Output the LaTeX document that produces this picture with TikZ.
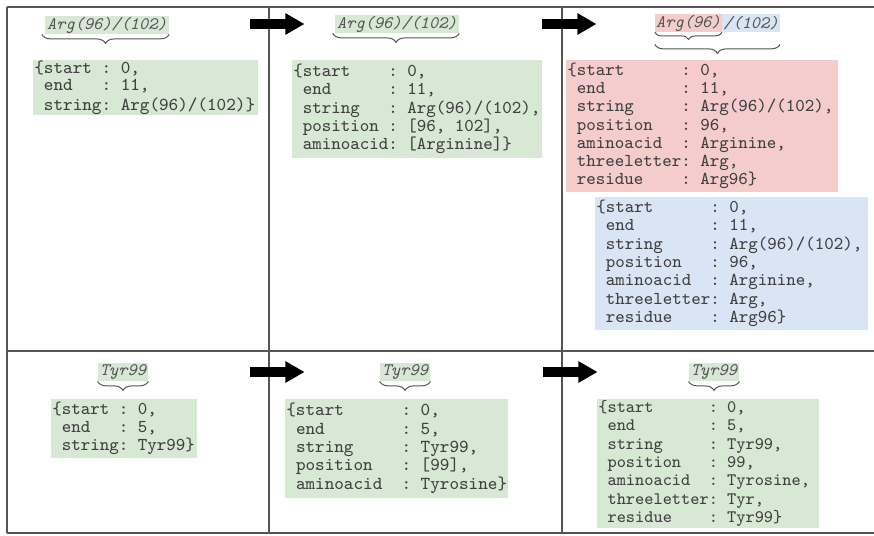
\documentclass[tikz,border=0pt]{standalone}
\usepackage{fontspec}
\usetikzlibrary{shapes.arrows,decorations.pathreplacing}
\definecolor{cgreen}{HTML}{D7E8D4}
\definecolor{cred}{HTML}{F4CCCC}
\definecolor{cblue}{HTML}{D9E5F5}
\definecolor{ctext}{HTML}{404040}
\definecolor{clabel}{HTML}{555555}
\definecolor{cframe}{HTML}{555555}
\newcommand\bl[1]{\hspace*{\dimexpr#1\fontcharwd\font`x\relax}}
\begin{document}
\begin{tikzpicture}[x=0.5pt,y=-0.5pt,
  codebox/.style={anchor=north west, inner xsep=0.5pt, inner ysep=0pt, align=left, text=ctext},
  fa/.style={font=\ttfamily\fontsize{9.05}{9.15}\selectfont},
  lbl/.style={inner xsep=1pt, inner ysep=0pt, minimum height=9pt, text=clabel, font=\ttfamily\itshape\fontsize{8.76}{9}\selectfont},
  blockarrow/.style={single arrow, fill=black, draw=none, inner sep=2.25pt, single arrow head extend=3pt, single arrow tip angle=60, minimum height=27pt},
  brc/.style={decorate, decoration={brace, mirror, amplitude=4.5pt}, draw=clabel, line width=0.5pt},
  frame/.style={draw=cframe, line width=0.8pt}]
\useasboundingbox (0,0) rectangle (874,536);

% frame
\draw[frame] (7,7) -- (874,7);
\draw[frame] (7,351) -- (874,351);
\draw[frame] (7,533) -- (874,533);
\draw[frame] (7,7) -- (7,533);
\draw[frame] (269,7) -- (269,533);
\draw[frame] (562,7) -- (562,533);

% arrows
\node[blockarrow] (a1) at (273,24) {};
\node[blockarrow] (a2) at (565,24) {};
\node[blockarrow] (a3) at (273,372) {};
\node[blockarrow] (a4) at (566,372) {};

% labels top
\node[lbl, fill=cgreen] (l1) at (107,25) {Arg(96)/(102)};
\node[lbl, fill=cgreen] (l2) at (397,24) {Arg(96)/(102)};
\node[lbl, fill=cred, anchor=east, inner xsep=0.5pt] (l3a) at (722,23) {Arg(96)};
\node[lbl, fill=cblue, anchor=west, inner xsep=0.5pt] (l3b) at (722,23) {/(102)};

\draw[brc] ([xshift=-1.5pt]l1.south west) -- (l1.south east);
\draw[brc] ([xshift=-1pt]l2.south west) -- (l2.south east);
\draw[brc, decoration={amplitude=3.5pt}] (l3a.south west) -- (l3a.south east);
\draw[brc] ([yshift=-6pt]l3a.south west) -- ([yshift=-6pt]l3b.south east);

% labels bottom
\node[lbl, fill=cgreen] (m1) at (123,372) {Tyr99};
\node[lbl, fill=cgreen] (m2) at (405,372) {Tyr99};
\node[lbl, fill=cgreen] (m3) at (714,372) {Tyr99};
\draw[brc] (m1.south west) -- (m1.south east);
\draw[brc] (m2.south west) -- (m2.south east);
\draw[brc] (m3.south west) -- (m3.south east);

% top boxes
\node[codebox, fill=cgreen, text width=111.5pt, minimum height=27.5pt,
      font=\ttfamily\fontsize{9.14}{8.5}\selectfont] (b1) at (33,60)
 {\strut\{start\bl{1}:\bl{1}0,\\
  \strut\bl{1}end\bl{3}:\bl{1}11,\\
  \strut\bl{1}string:\bl{1}Arg(96)/(102)\}};

\node[codebox, fill=cgreen, text width=124pt, minimum height=49pt, fa] (b2) at (292,60)
 {\strut\{start\bl{4}:\bl{1}0,\\
  \strut\bl{1}end\bl{6}:\bl{1}11,\\
  \strut\bl{1}string\bl{3}:\bl{1}Arg(96)/(102),\\
  \strut\bl{1}position\bl{1}:\bl{1}[96,\bl{1}102],\\
  \strut\bl{1}aminoacid:\bl{1}[Arginine]\}};

\node[codebox, fill=cred, text width=135pt, minimum height=66pt, fa] (b3) at (566,60)
 {\strut\{start\bl{6}:\bl{1}0,\\
  \strut\bl{1}end\bl{8}:\bl{1}11,\\
  \strut\bl{1}string\bl{5}:\bl{1}Arg(96)/(102),\\
  \strut\bl{1}position\bl{3}:\bl{1}96,\\
  \strut\bl{1}aminoacid\bl{2}:\bl{1}Arginine,\\
  \strut\bl{1}threeletter:\bl{1}Arg,\\
  \strut\bl{1}residue\bl{4}:\bl{1}Arg96\}};

\node[codebox, fill=cblue, text width=135.5pt, minimum height=66.5pt, fa] (b4) at (595,197)
 {\strut\{start\bl{6}:\bl{1}0,\\
  \strut\bl{1}end\bl{8}:\bl{1}11,\\
  \strut\bl{1}string\bl{5}:\bl{1}Arg(96)/(102),\\
  \strut\bl{1}position\bl{3}:\bl{1}96,\\
  \strut\bl{1}aminoacid\bl{2}:\bl{1}Arginine,\\
  \strut\bl{1}threeletter:\bl{1}Arg,\\
  \strut\bl{1}residue\bl{4}:\bl{1}Arg96\}};

% bottom boxes
\node[codebox, fill=cgreen, text width=72pt, minimum height=29.5pt, fa] (c1) at (51,399)
 {\strut\{start\bl{1}:\bl{1}0,\\
  \strut\bl{1}end\bl{3}:\bl{1}5,\\
  \strut\bl{1}string:\bl{1}Tyr99\}};

\node[codebox, fill=cgreen, text width=110.5pt, minimum height=49.5pt,
      font=\ttfamily\fontsize{9.14}{9.2}\selectfont] (c2) at (285,399)
 {\strut\{start\bl{6}:\bl{1}0,\\
  \strut\bl{1}end\bl{8}:\bl{1}5,\\
  \strut\bl{1}string\bl{5}:\bl{1}Tyr99,\\
  \strut\bl{1}position\bl{3}:\bl{1}[99],\\
  \strut\bl{1}aminoacid\bl{2}:\bl{1}Tyrosine\}};

\node[codebox, fill=cgreen, text width=110pt, minimum height=64pt,
      font=\ttfamily\fontsize{8.76}{9.2}\selectfont] (c3) at (597,399)
 {\strut\{start\bl{6}:\bl{1}0,\\
  \strut\bl{1}end\bl{8}:\bl{1}5,\\
  \strut\bl{1}string\bl{5}:\bl{1}Tyr99,\\
  \strut\bl{1}position\bl{3}:\bl{1}99,\\
  \strut\bl{1}aminoacid\bl{2}:\bl{1}Tyrosine,\\
  \strut\bl{1}threeletter:\bl{1}Tyr,\\
  \strut\bl{1}residue\bl{4}:\bl{1}Tyr99\}};
\end{tikzpicture}
\end{document}
